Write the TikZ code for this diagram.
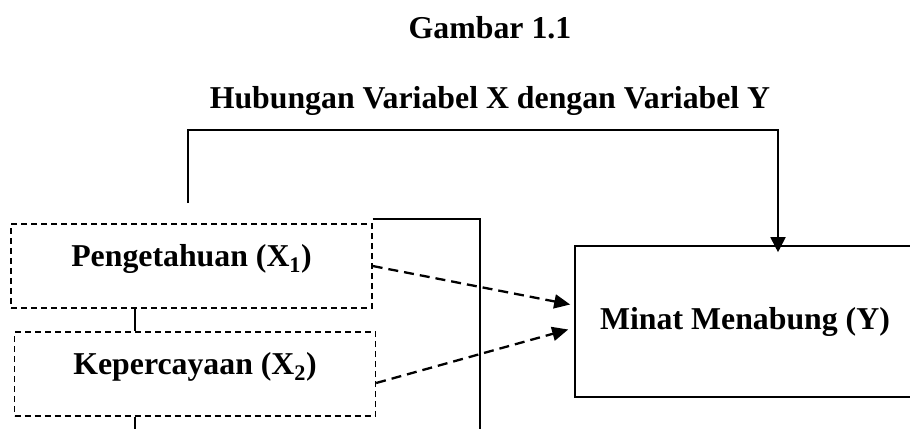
\documentclass[tikz,border=0pt]{standalone}
\usepackage{fontspec}
\setmainfont{Liberation Serif}
\usetikzlibrary{positioning,calc,arrows.meta}

\tikzset{
  varbox/.style={draw, dashed, dash pattern=on 6pt off 4pt, line width=1.3pt, minimum width=361pt, inner ysep=6pt, text height=36pt, text depth=36pt},
  ybox/.style={draw, line width=1.6pt, minimum width=340pt, minimum height=151pt},
  dasharrow/.style={line width=2.3pt, dash pattern=on 10pt off 6pt, -{Triangle[length=16pt,width=14pt]}},
  solidline/.style={line width=1.8pt},
}

\begin{document}
\begin{tikzpicture}[x=1pt,y=1pt,yscale=-1,xscale=1,font=\fontsize{31.8}{36}\selectfont\bfseries]
    \useasboundingbox (0,0) rectangle (910,429);

    % Title
    \node [anchor=base] (judul) at (490,38) {Gambar 1.1};
    \node [anchor=base] (subjudul) at (490,108) {Hubungan Variabel X dengan Variabel Y};

    % Variables
    \node [varbox] (pengetahuan) at (191.5,266) {Pengetahuan (X\textsubscript{1})};
    \node [varbox] (kepercayaan) at (195,374) {Kepercayaan (X\textsubscript{2})};
    \node [ybox] (minat) at (745,321.5) {Minat Menabung (Y)};

    % helper points
    \coordinate (fb) at (188,203);
    \coordinate (fbtop) at (778,130);
    \coordinate (tengah) at (135,0);
    \coordinate (bawah) at (135,429);
    \coordinate (kanan) at (480,429);

    % simultaneous line
    \draw [solidline, -{Triangle[length=15pt,width=15pt]}] (fb) |- (fbtop) -- ([yshift=7pt]fbtop |- minat.north);
    \draw [solidline] ([yshift=-4pt]pengetahuan.north east) -| (kanan);

    % links between boxes
    \draw [line width=1.6pt] (pengetahuan.south -| tengah) -- (kepercayaan.north -| tengah);
    \draw [line width=1.6pt] (kepercayaan.south -| tengah) -- (bawah);

    % partial arrows
    \draw [dasharrow] (pengetahuan.east) -- ($(minat.west)+(-4,-17)$);
    \draw [dasharrow] ([yshift=9pt]kepercayaan.east) -- ($(minat.west)+(-6,8)$);

\end{tikzpicture}
\end{document}
